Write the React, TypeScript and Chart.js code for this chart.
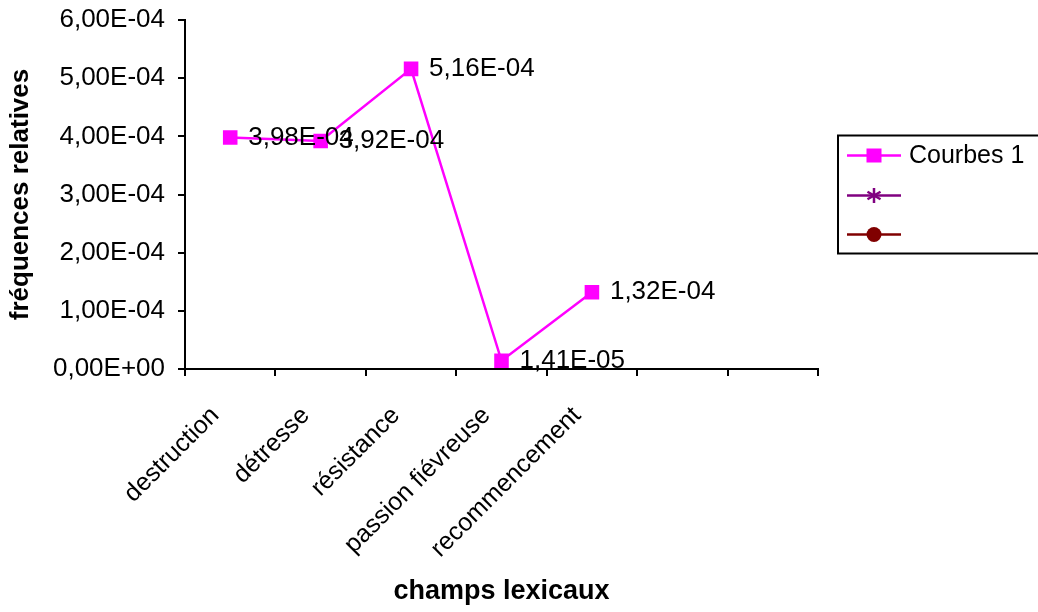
import React, { useEffect, useRef } from "react";
import { Chart, registerables } from "chart.js";

Chart.register(...registerables);

const categories = ["destruction", "détresse", "résistance", "passion fiévreuse", "recommencement", "", ""];
const series1 = [3.98e-4, 3.92e-4, 5.16e-4, 1.41e-5, 1.32e-4];
const series2: (number | null)[] = [];
const series3: (number | null)[] = [];
const seriesNames = ["Courbes 1", "", ""];
const seriesColors = ["#FF00FF", "#800080", "#800000"];
const seriesMarkers = ["rect", "star", "circle"];
const yMin = 0;
const yMax = 6e-4;
const yStep = 1e-4;
const xTitle = "champs lexicaux";
const yTitle = "fréquences relatives";

const FONT = "'Liberation Sans', Arial, sans-serif";
const FS = 25;
const NFS = 26;

function fmt(v: number): string {
  const [m, e] = v.toExponential(2).split("e");
  const exp = parseInt(e, 10);
  const sign = exp < 0 ? "-" : "+";
  const ae = Math.abs(exp).toString().padStart(2, "0");
  return m.replace(".", ",") + "E" + sign + ae;
}

function drawMarker(ctx: CanvasRenderingContext2D, style: string, x: number, y: number, color: string) {
  ctx.save();
  ctx.fillStyle = color;
  ctx.strokeStyle = color;
  ctx.lineWidth = 2.5;
  if (style === "rect") {
    ctx.fillRect(x - 7.5, y - 7, 15, 14);
  } else if (style === "circle") {
    ctx.beginPath();
    ctx.arc(x, y, 7.5, 0, Math.PI * 2);
    ctx.fill();
  } else if (style === "star") {
    const r = 7.5;
    ctx.beginPath();
    ctx.moveTo(x, y - r);
    ctx.lineTo(x, y + r);
    ctx.moveTo(x - r * 0.87, y - r * 0.5);
    ctx.lineTo(x + r * 0.87, y + r * 0.5);
    ctx.moveTo(x - r * 0.87, y + r * 0.5);
    ctx.lineTo(x + r * 0.87, y - r * 0.5);
    ctx.stroke();
  }
  ctx.restore();
}

const dataLabelPlugin = {
  id: "dataLabels",
  afterDatasetsDraw(chart: any) {
    const ctx: CanvasRenderingContext2D = chart.ctx;
    const meta = chart.getDatasetMeta(0);
    const data = chart.data.datasets[0].data as number[];
    ctx.save();
    ctx.font = `${NFS}px ${FONT}`;
    ctx.fillStyle = "#000";
    ctx.textAlign = "left";
    ctx.textBaseline = "middle";
    meta.data.forEach((el: any, i: number) => {
      const v = data[i];
      if (v == null) return;
      ctx.fillText(fmt(v), el.x + 18, el.y);
    });
    ctx.restore();
  },
};

const legendPlugin = {
  id: "boxLegend",
  afterDraw(chart: any) {
    const ctx: CanvasRenderingContext2D = chart.ctx;
    const ca = chart.chartArea;
    const left = ca.right + 20;
    const cy = (ca.top + ca.bottom) / 2;
    const top = cy - 59;
    const h = 118;
    ctx.save();
    ctx.strokeStyle = "#000";
    ctx.lineWidth = 2;
    ctx.strokeRect(left, top, chart.width - left + 10, h);
    const rows = [20, 60, 99];
    chart.data.datasets.forEach((ds: any, i: number) => {
      const y = top + rows[i];
      ctx.strokeStyle = seriesColors[i];
      ctx.lineWidth = 2.5;
      ctx.beginPath();
      ctx.moveTo(left + 9, y);
      ctx.lineTo(left + 63, y);
      ctx.stroke();
      drawMarker(ctx, seriesMarkers[i], left + 36, y, seriesColors[i]);
      ctx.fillStyle = "#000";
      ctx.font = `${FS}px ${FONT}`;
      ctx.textAlign = "left";
      ctx.textBaseline = "middle";
      ctx.fillText(ds.label, left + 71, y + 1);
    });
    ctx.restore();
  },
};

export default function App() {
  const ref = useRef<HTMLCanvasElement>(null);
  useEffect(() => {
    document.body.style.margin = "0";
    const canvas = ref.current!;
    const chart = new Chart(canvas, {
      type: "line",
      data: {
        labels: categories,
        datasets: [
          {
            label: seriesNames[0],
            data: series1,
            borderColor: seriesColors[0],
            backgroundColor: seriesColors[0],
            borderWidth: 2.5,
            pointStyle: "rect",
            pointRadius: 10.3,
            pointBackgroundColor: seriesColors[0],
            pointBorderColor: seriesColors[0],
            pointBorderWidth: 0,
            tension: 0,
          },
          {
            label: seriesNames[1],
            data: series2,
            borderColor: seriesColors[1],
            backgroundColor: seriesColors[1],
            pointStyle: "star",
          },
          {
            label: seriesNames[2],
            data: series3,
            borderColor: seriesColors[2],
            backgroundColor: seriesColors[2],
            pointStyle: "circle",
          },
        ],
      },
      options: {
        animation: false,
        responsive: false,
        devicePixelRatio: 1,
        layout: { padding: { left: 0, right: 220, top: 20, bottom: 0 } },
        plugins: { legend: { display: false }, tooltip: { enabled: false } },
        scales: {
          x: {
            type: "category",
            offset: true,
            afterFit: (scale: any) => {
              scale.height = 243;
            },
            grid: { offset: true, drawOnChartArea: false, drawTicks: true, tickLength: 7, color: "#000", lineWidth: 2 },
            border: { display: true, color: "#000", width: 2 },
            ticks: {
              autoSkip: false,
              maxRotation: 45,
              minRotation: 45,
              padding: 25,
              labelOffset: -15,
              color: "#000",
              font: { family: FONT, size: FS },
            },
            title: {
              display: true,
              text: xTitle,
              color: "#000",
              font: { family: FONT, size: 27, weight: "bold" },
              padding: { top: 0, bottom: 4 },
            },
          },
          y: {
            min: yMin,
            max: yMax,
            afterFit: (scale: any) => {
              scale.width = 185;
              scale.paddingTop = 0;
            },
            grid: { drawOnChartArea: false, drawTicks: true, tickLength: 7, color: "#000", lineWidth: 2 },
            border: { display: true, color: "#000", width: 2 },
            ticks: {
              stepSize: yStep,
              padding: 13,
              color: "#000",
              font: { family: FONT, size: NFS },
              callback: (v: any) => fmt(Number(v)),
            },
            title: {
              display: true,
              text: yTitle,
              color: "#000",
              font: { family: FONT, size: 26, weight: "bold" },
              padding: { top: 5, bottom: 0 },
            },
          },
        },
      },
      plugins: [dataLabelPlugin, legendPlugin],
    } as any);
    return () => chart.destroy();
  }, []);
  return (
    <div style={{ position: "absolute", left: 0, top: 0, width: 1038, height: 612, background: "#fff" }}>
      <canvas ref={ref} width={1038} height={612} style={{ width: 1038, height: 612 }} />
    </div>
  );
}
